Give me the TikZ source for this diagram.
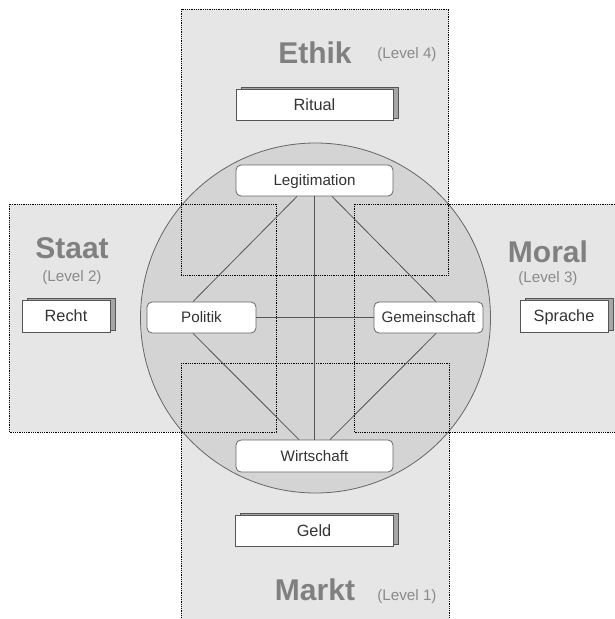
\documentclass[tikz,border=0pt]{standalone}
\usepackage{fontspec}
\setmainfont{Liberation Sans}
\usetikzlibrary{shadows,calc}
\definecolor{bandgray}{HTML}{E6E6E6}
\definecolor{circlegray}{HTML}{D4D4D4}
\definecolor{circleline}{HTML}{666666}
\definecolor{linkgray}{HTML}{555555}
\definecolor{titlegray}{HTML}{808080}
\definecolor{levelgray}{HTML}{8A8A8A}
\definecolor{shadowgray}{HTML}{A6A6A6}
\definecolor{cardline}{HTML}{555555}
\definecolor{textdark}{HTML}{333333}
\tikzset{
  bandfill/.style={fill=bandgray, draw=none},
  bandedge/.style={draw=black, dash pattern=on 0.9pt off 0.9pt, line width=0.8pt},
  titletext/.style={font=\fontsize{30}{30}\selectfont\bfseries, text=titlegray, inner sep=0pt},
  leveltext/.style={font=\fontsize{15.2}{15.2}\selectfont, text=levelgray, inner sep=0pt},
  card/.style={draw=cardline, fill=white, line width=0.8pt, inner sep=0pt,
    text height=11.7pt, text depth=0pt,
    font=\fontsize{16.3}{16.3}\selectfont, text=textdark,
    general shadow={shadow xshift=5pt, shadow yshift=2pt, fill=shadowgray, draw=cardline, line width=0.8pt}},
  inner/.style={draw=circleline, fill=white, line width=0.8pt, rounded corners=5pt, inner sep=0pt,
    text height=10.9pt, text depth=0pt,
    minimum height=31pt, font=\fontsize{15.2}{15.2}\selectfont, text=textdark},
  link/.style={draw=linkgray, line width=0.8pt},
}
\begin{document}
\begin{tikzpicture}[x=1pt,y=-1pt]
\clip (0,0) rectangle (615,619);
\fill[white] (0,0) rectangle (615,619);
% band fills
\fill[bandfill] (181,9) rectangle (448.5,275);
\fill[bandfill] (181,363) rectangle (449,630);
\fill[bandfill] (9,204) rectangle (276,432);
\fill[bandfill] (354,204) rectangle (630,432);
% core circle
\node[circle, draw=circleline, fill=circlegray, line width=0.8pt, minimum size=350pt, inner sep=0pt] (core) at (315.5,318) {};
% band outlines
\draw[bandedge] (181,9) rectangle (448.5,275);
\draw[bandedge] (181,363) rectangle (449,630);
\draw[bandedge] (9,204) rectangle (276,432);
\draw[bandedge] (354,204) rectangle (630,432);
% inner nodes
\node[inner, minimum width=157pt] (leg) at (314.5,180.5) {Legitimation};
\node[inner, minimum width=109pt] (pol) at (201.5,317.5) {Politik};
\node[inner, minimum width=109pt] (gem) at (428.5,317.5) {Gemeinschaft};
\node[inner, minimum width=157pt, minimum height=32pt] (wir) at (314.5,456) {Wirtschaft};
% links
\draw[link] ([xshift=-17.5pt]leg.south) -- ([xshift=-8.5pt]pol.north);
\draw[link] ([xshift=17.5pt]leg.south) -- ([xshift=7.5pt]gem.north);
\draw[link] (leg.south) -- (wir.north);
\draw[link] (pol.east) -- (gem.west);
\draw[link] ([xshift=-8.5pt]pol.south) -- ([xshift=-15.5pt]wir.north);
\draw[link] ([xshift=7.5pt]gem.south) -- ([xshift=15.5pt]wir.north);
% titles
\node[titletext] (ethik) at (315,53) {Ethik};
\node[leveltext] (l4) at (407,55) {(Level 4)};
\node[titletext] (staat) at (72,248) {Staat};
\node[leveltext] (l2) at (72,278) {(Level 2)};
\node[titletext] (moral) at (548,252) {Moral};
\node[leveltext] (l3) at (548,279) {(Level 3)};
\node[titletext] (markt) at (315,590) {Markt};
\node[leveltext] (l1) at (407,597) {(Level 1)};
% cards
\node[card, minimum width=157pt, minimum height=31pt] (ritual) at (314.5,104.5) {Ritual};
\node[card, minimum width=88pt, minimum height=32pt] (recht) at (66,316) {Recht};
\node[card, minimum width=88pt, minimum height=32pt] (sprache) at (564,316) {Sprache};
\node[card, minimum width=158pt, minimum height=31pt] (geld) at (314,530.5) {Geld};
\end{tikzpicture}
\end{document}
